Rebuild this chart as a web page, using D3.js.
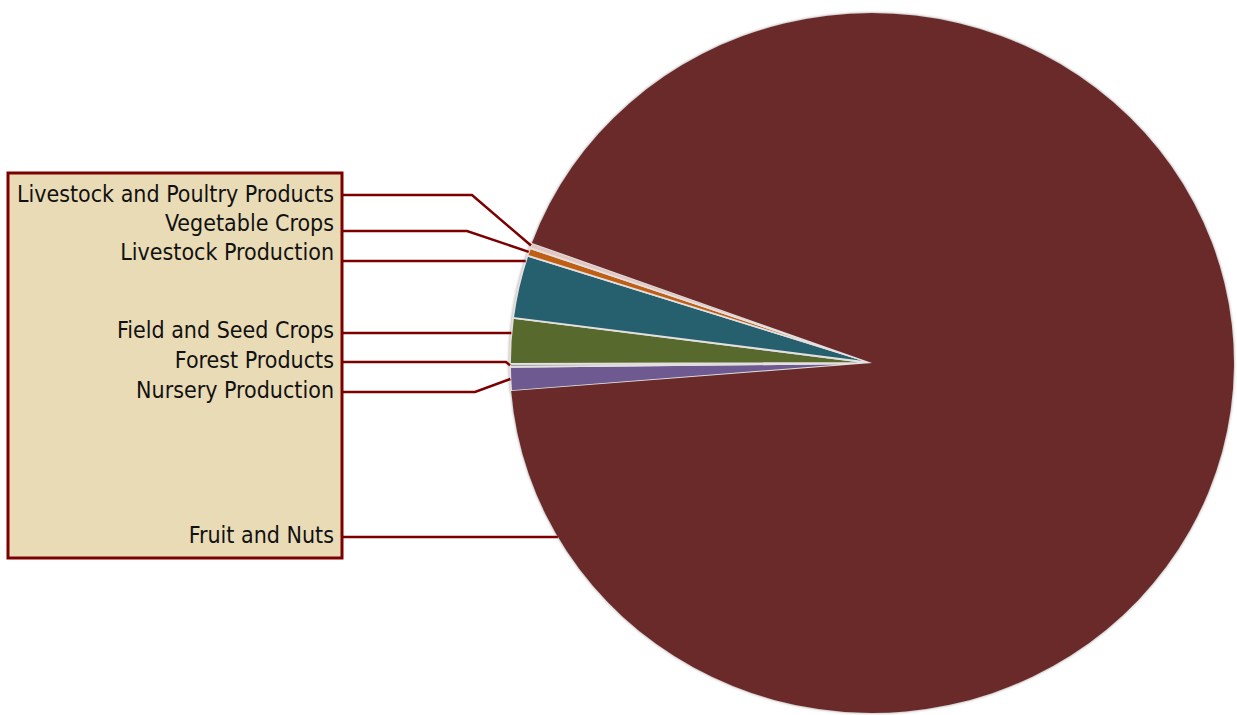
<!DOCTYPE html>
<html>
<head>
<meta charset="utf-8">
<script src="https://cdn.jsdelivr.net/npm/d3@7"></script>
<style>
  html, body { margin: 0; padding: 0; background: #ffffff; }
  svg { display: block; }
</style>
</head>
<body>
<svg id="chart" width="1237" height="715"></svg>
<script>
// ---- data (legend order, top to bottom) ----
const categories = [
  "Livestock and Poultry Products",
  "Vegetable Crops",
  "Livestock Production",
  "Field and Seed Crops",
  "Forest Products",
  "Nursery Production",
  "Fruit and Nuts"
];
const shares = [0.25, 0.36, 2.9, 2.1, 0.14, 1.1, 93.15]; // percent of total
const sliceColors = ["#e2c6c0", "#bf5f14", "#255e6e", "#58692d", "#9a9aa6", "#6e5a90", "#6b2c2b"];
// order of slices clockwise around the pie, starting below the left horizontal
const pieOrder = [
  "Nursery Production",
  "Forest Products",
  "Field and Seed Crops",
  "Livestock Production",
  "Vegetable Crops",
  "Livestock and Poultry Products",
  "Fruit and Nuts"
];

// ---- layout ----
const W = 1237, H = 715;
const cx = 872, cy = 363, rx = 362, ry = 350;
const startDeg = 265.4;
const box = { x: 8, y: 173, w: 334, h: 385 };
const labelBaselines = [202, 231, 260, 338, 368, 398, 543];
const lineYs = [195, 231, 261, 333, 362, 392, 537];
const kneeXs = [472, 467, 459, 490, 506, 475, 400];
const textRight = 334;
const lineColor = "#7d0000";

const svg = d3.select("#chart");
const data = categories.map((c, i) => ({ name: c, value: shares[i], color: sliceColors[i], idx: i }));
const ordered = pieOrder.map(n => data.find(d => d.name === n));

const startA = startDeg * Math.PI / 180;
const pie = d3.pie().sort(null).value(d => d.value).startAngle(startA).endAngle(startA + 2 * Math.PI);
const arcs = pie(ordered);
const arc = d3.arc().innerRadius(0).outerRadius(rx);

// soft shadow filter for the pie edge
const defs = svg.append("defs");
const f = defs.append("filter").attr("id", "soft").attr("x", "-5%").attr("y", "-5%").attr("width", "110%").attr("height", "110%");
f.append("feGaussianBlur").attr("in", "SourceAlpha").attr("stdDeviation", 1.5).attr("result", "b");
f.append("feFlood").attr("flood-color", "#a09090").attr("result", "c");
f.append("feComposite").attr("in", "c").attr("in2", "b").attr("operator", "in").attr("result", "s");
const m = f.append("feMerge");
m.append("feMergeNode").attr("in", "s");
m.append("feMergeNode").attr("in", "SourceGraphic");

const pieG = svg.append("g")
  .attr("transform", `translate(${cx},${cy}) scale(1,${ry / rx})`)
  .attr("filter", "url(#soft)");

pieG.selectAll("path.slice")
  .data(arcs)
  .join("path")
  .attr("class", "slice")
  .attr("d", arc)
  .attr("fill", d => d.data.color)
  .attr("stroke", d => d.data.name === "Fruit and Nuts" ? "none" : "#e4e0e0")
  .attr("stroke-width", 1.8)
  .attr("stroke-linejoin", "round")
  .attr("vector-effect", "non-scaling-stroke");

// ---- legend box ----
svg.append("rect")
  .attr("x", box.x).attr("y", box.y)
  .attr("width", box.w).attr("height", box.h)
  .attr("fill", "#e9dbb6")
  .attr("stroke", lineColor)
  .attr("stroke-width", 3);

const fontFam = "'Liberation Sans Narrow', 'DejaVu Sans Condensed', 'Liberation Sans', sans-serif";
svg.selectAll("text.lbl")
  .data(data)
  .join("text")
  .attr("class", "lbl")
  .attr("x", textRight)
  .attr("y", d => labelBaselines[d.idx])
  .attr("text-anchor", "end")
  .attr("font-family", fontFam)
  .attr("font-stretch", "condensed")
  .attr("font-size", 23)
  .attr("fill", "#111")
  .text(d => d.name);

// ---- leader lines ----
function ellPoint(a) { return [cx + rx * Math.sin(a), cy - ry * Math.cos(a)]; }
function norm(a) { const t = 2 * Math.PI; return ((a % t) + t) % t; }
function inSlice(a, s) {
  const lo = norm(s.startAngle), span = s.endAngle - s.startAngle;
  const d = norm(a - lo);
  return d <= span;
}
const lines = arcs.map(s => {
  const i = s.data.idx;
  const ly = lineYs[i];
  const t = (ly - cy) / ry;
  const aLeft = Math.atan2(-Math.sqrt(Math.max(0, 1 - t * t)), -t);
  let pts;
  if (inSlice(aLeft, s)) {
    const p = ellPoint(aLeft);
    pts = [[box.x + box.w, ly], [p[0], ly]];
  } else {
    const mid = (s.startAngle + s.endAngle) / 2;
    const p = ellPoint(mid);
    pts = [[box.x + box.w, ly], [kneeXs[i], ly], p];
  }
  return pts;
});

svg.selectAll("path.leader")
  .data(lines)
  .join("path")
  .attr("class", "leader")
  .attr("d", d3.line())
  .attr("fill", "none")
  .attr("stroke", lineColor)
  .attr("stroke-width", 2.5);
</script>
</body>
</html>
